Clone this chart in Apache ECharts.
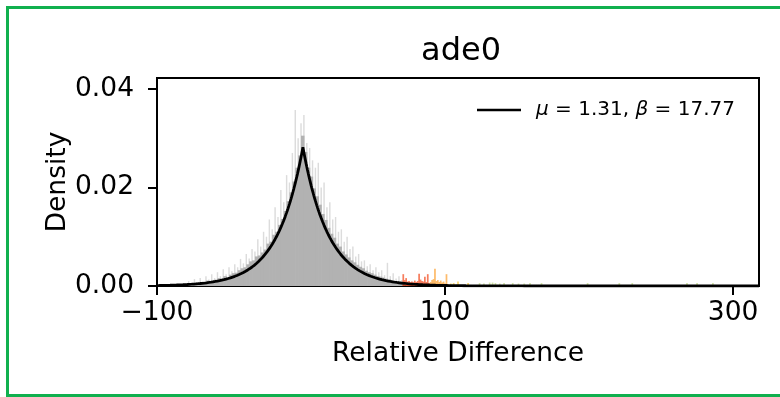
<!DOCTYPE html>
<html>
<head>
<meta charset="utf-8">
<script src="https://cdn.jsdelivr.net/npm/echarts@6/dist/echarts.min.js"></script>
<style>
html,body{margin:0;padding:0;background:#fff;}
#chart{width:780px;height:397px;}
</style>
</head>
<body>
<div id="chart"></div>
<script>
// ---- data ----
const title = 'ade0';
const xTicks = [-100, 100, 300];
const yTicks = [0, 0.02, 0.04];
const fitMu = 1.31;
const fitBeta = 17.77;

// main histogram (bin centres, 2-unit bins) — density
const mainCenters = [];
for (let c = -79; c <= 69; c += 2) mainCenters.push(c);
const mainDensity = [
  0.0004,0.0006,0.0004,0.0007,0.0006,0.0008,0.0008,0.0011,0.0010,0.0012,
  0.0013,0.0016,0.0015,0.0020,0.0018,0.0023,0.0026,0.0027,0.0032,0.0036,
  0.0038,0.0044,0.0050,0.0052,0.0060,0.0062,0.0068,0.0074,0.0086,0.0090,
  0.0104,0.0110,0.0124,0.0136,0.0152,0.0172,0.0190,0.0212,0.0240,0.0265,
  0.0305,0.0272,0.0240,0.0222,0.0198,0.0182,0.0165,0.0146,0.0134,0.0118,
  0.0106,0.0098,0.0086,0.0080,0.0070,0.0064,0.0058,0.0052,0.0048,0.0043,
  0.0039,0.0036,0.0031,0.0028,0.0026,0.0023,0.0020,0.0019,0.0017,0.0015,
  0.0014,0.0012,0.0010,0.0009,0.0008
];

// lighter fine-bin spikes (bin centres, 1-unit wide)
const spikeCenters = [];
for (let c = -80; c <= 70; c += 2) spikeCenters.push(c);
const spikeDensity = [
  0.0005,0.0010,0.0006,0.0014,0.0008,0.0016,0.0010,0.0020,0.0013,0.0024,
  0.0016,0.0028,0.0020,0.0034,0.0024,0.0038,0.0030,0.0044,0.0038,0.0055,
  0.0046,0.0065,0.0056,0.0075,0.0070,0.0095,0.0080,0.0110,0.0100,0.0135,
  0.0115,0.0160,0.0140,0.0195,0.0170,0.0225,0.0210,0.0270,0.0357,0.0300,
  0.0330,0.0347,0.0290,0.0280,0.0255,0.0240,0.0250,0.0200,0.0210,0.0160,
  0.0170,0.0135,0.0140,0.0110,0.0115,0.0090,0.0100,0.0075,0.0080,0.0060,
  0.0065,0.0050,0.0052,0.0040,0.0044,0.0032,0.0038,0.0028,0.0032,0.0022,
  0.0047,0.0020,0.0026,0.0015,0.0020,0.0012
];

// coloured tail bins (1-unit wide)
const tailX = [71,72,73,74,75,76,77,78,79,80,81,82,83,84,85,86,87,88,89,
  90,91,92,93,94,95,96,97,98,99,100,101,102,
  104,106,109,116,124,127,131,133,135,138,141,147,151,155,159,167,199,221,230,268,275,286];
const tailDensity = [0.0024,0.0012,0.0016,0.0009,0.0010,0.0008,0.0009,0.0007,0.0011,0.0008,0.0010,0.0025,0.0013,0.0010,0.0009,0.0019,0.0008,0.0024,0.0006,
  0.0008,0.0012,0.0014,0.0035,0.0010,0.0012,0.0008,0.0011,0.0007,0.0009,0.0005,0.0024,0.0004,
  0.0005,0.0006,0.0009,0.0006,0.0006,0.0005,0.0007,0.0007,0.0006,0.0005,0.0006,0.0006,0.0005,0.0005,0.0006,0.0006,0.0006,0.0006,0.0006,0.0006,0.0006,0.0006];

// ---- fitted Laplace pdf from the stated parameters ----
const curveX = [];
for (let x = -100; x <= 318; x += 0.5) curveX.push(x);
curveX.push(fitMu);
curveX.sort((a, b) => a - b);
const curve = curveX.map(x => [x, Math.exp(-Math.abs(x - fitMu) / fitBeta) / (2 * fitBeta)]);

function tailColor(x) {
  if (x < 90) return 'rgba(244,92,52,0.8)';
  if (x < 104) return 'rgba(253,170,70,0.8)';
  if (x < 120) return 'rgba(245,200,60,0.75)';
  return 'rgba(185,212,120,0.65)';
}

function barSeries(name, centers, values, width, colorFn, z, overlap) {
  return {
    name: name,
    type: 'custom',
    z: z,
    clip: true,
    silent: true,
    encode: { x: 0, y: 1 },
    data: centers.map((c, i) => [c, values[i]]),
    renderItem: function (params, api) {
      const x = api.value(0), h = api.value(1);
      const p0 = api.coord([x - width / 2, h]);
      const p1 = api.coord([x + width / 2, 0]);
      return {
        type: 'rect',
        shape: { x: p0[0], y: p0[1], width: Math.max(p1[0] - p0[0] + overlap, 1), height: p1[1] - p0[1] },
        style: { fill: colorFn(x) }
      };
    }
  };
}

const FONT = 'DejaVu Sans';
const chart = echarts.init(document.getElementById('chart'), null, { renderer: 'canvas' });
chart.setOption({
  animation: false,
  backgroundColor: '#fff',
  textStyle: { fontFamily: FONT },
  title: {
    text: title,
    left: 456,
    textAlign: 'center',
    top: 31,
    textStyle: { fontFamily: FONT, fontSize: 32, fontWeight: 'normal', color: '#000' }
  },
  grid: {
    left: 157, right: 21, top: 78, bottom: 111,
    show: true, borderColor: '#000', borderWidth: 2, backgroundColor: 'transparent'
  },
  legend: {
    show: true,
    left: 472, top: 95,
    itemWidth: 44, itemHeight: 14,
    data: [{ name: 'fit', icon: 'path://M0,0 L44,0 L44,2.6 L0,2.6 Z' }],
    formatter: function () { return '{i|μ} = 1.31, {i|β} = 17.77'; },
    textStyle: {
      fontFamily: FONT, fontSize: 20, color: '#000', padding: [0, 0, 0, 10],
      rich: { i: { fontFamily: FONT, fontStyle: 'italic', fontSize: 20, color: '#000' } }
    }
  },
  graphic: [{
    type: 'rect', silent: true, z: 100,
    shape: { x: 7.5, y: 7.5, width: 800, height: 388 },
    style: { fill: 'none', stroke: '#10b04e', lineWidth: 3 }
  }],
  xAxis: {
    type: 'value', min: -100, max: 318,
    name: 'Relative Difference', nameLocation: 'middle', nameGap: 55,
    nameMoveOverlap: false,
    nameTextStyle: { fontFamily: FONT, fontSize: 26.5, color: '#000' },
    splitLine: { show: false },
    axisLine: { show: false, onZero: false },
    axisTick: { show: true, inside: false, length: 9, lineStyle: { color: '#000', width: 2 }, customValues: xTicks },
    axisLabel: {
      fontFamily: FONT, fontSize: 26.5, color: '#000', margin: 14, customValues: xTicks,
      formatter: v => (v < 0 ? '\u2212' + Math.abs(v) : String(v))
    }
  },
  yAxis: {
    type: 'value', min: 0, max: 0.0422,
    name: 'Density', nameLocation: 'middle', nameGap: 85, nameRotate: 90,
    nameMoveOverlap: false,
    nameTextStyle: { fontFamily: FONT, fontSize: 26.5, color: '#000' },
    splitLine: { show: false },
    axisLine: { show: false, onZero: false },
    axisTick: { show: true, inside: false, length: 9, lineStyle: { color: '#000', width: 2 }, customValues: yTicks },
    axisLabel: {
      fontFamily: FONT, fontSize: 26.5, color: '#000', margin: 23, customValues: yTicks,
      formatter: v => v.toFixed(2)
    }
  },
  series: [
    barSeries('spikes', spikeCenters, spikeDensity, 1, () => '#dcdcdc', 1, 0),
    barSeries('main', mainCenters, mainDensity, 2, () => '#b2b2b2', 2, 0.6),
    barSeries('tail', tailX, tailDensity, 1.2, tailColor, 3, 0),
    {
      name: 'fit', type: 'line', z: 5, data: curve, showSymbol: false, symbol: 'none',
      silent: true, clip: true,
      lineStyle: { color: '#000', width: 2.8 }, itemStyle: { color: '#000' }
    }
  ]
});
</script>
</body>
</html>
